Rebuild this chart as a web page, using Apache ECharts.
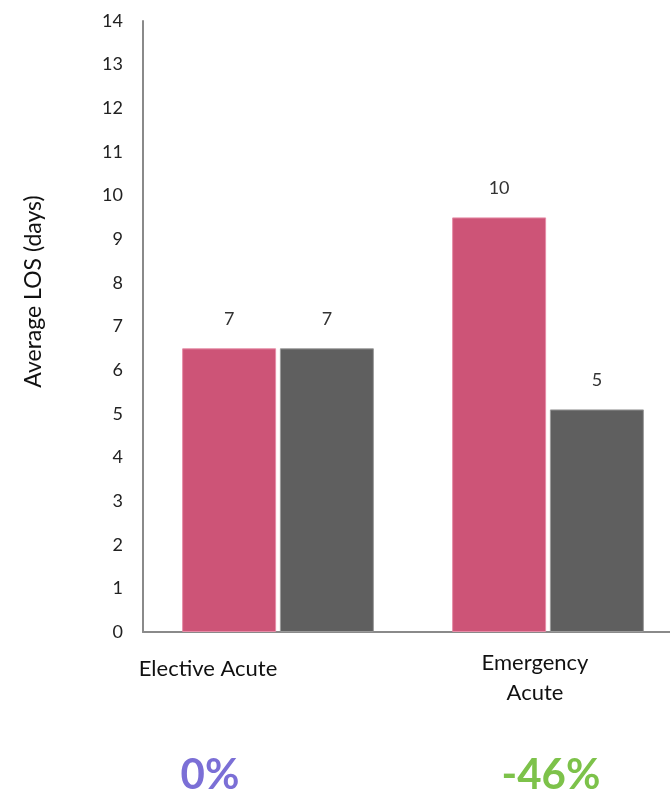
<!DOCTYPE html>
<html>
<head>
<meta charset="utf-8">
<script src="https://cdn.jsdelivr.net/npm/echarts@6/dist/echarts.min.js"></script>
<style>
  html, body { margin: 0; padding: 0; background: #fff; }
  #chart { width: 670px; height: 791px; }
</style>
</head>
<body>
<div id="chart"></div>
<script>
// Average length of stay by admission type, before vs after
const categories = ['Elective Acute', 'Emergency\nAcute'];
const beforeValues = [6.5, 9.5];
const afterValues = [6.5, 5.1];
const changeLabels = ['0%', '-46%'];
const yTicks = { min: 0, max: 14, step: 1 };

const FONT = 'Lato, "Open Sans", sans-serif';
const chart = echarts.init(document.getElementById('chart'), null, { renderer: 'canvas' });

// bar labels show the value rounded to whole days
const valueLabel = {
  show: true,
  position: 'top',
  distance: 20,
  color: '#333',
  fontFamily: FONT,
  fontSize: 18,
  formatter: p => Math.round(p.value)
};

chart.setOption({
  animation: false,
  backgroundColor: '#ffffff',
  grid: { left: 143, top: 21, width: 540, bottom: 159, outerBoundsMode: 'none', containLabel: false },
  xAxis: {
    type: 'category',
    data: categories,
    axisLine: { lineStyle: { color: '#8a8a8a', width: 2 } },
    axisTick: { show: false },
    axisLabel: {
      interval: 0,
      margin: 16,
      formatter: (v, i) => i === 0 ? '{a|' + v + '}' : v.split('\n').map(s => '{b|' + s + '}').join('\n'),
      rich: {
        a: { fontFamily: FONT, fontSize: 22, color: '#111', lineHeight: 30, padding: [11, 140, 0, 0] },
        b: { fontFamily: FONT, fontSize: 22, color: '#111', lineHeight: 30, padding: [0, 26, 0, 0] }
      }
    }
  },
  yAxis: {
    type: 'value',
    min: yTicks.min,
    max: yTicks.max,
    interval: yTicks.step,
    name: 'Average LOS (days)',
    nameLocation: 'middle',
    nameGap: 98,
    nameTextStyle: { fontFamily: FONT, fontSize: 23, color: '#111', padding: [0, 0, 0, 70] },
    axisLine: { show: true, lineStyle: { color: '#8a8a8a', width: 2 } },
    axisTick: { show: false },
    splitLine: { show: false },
    axisLabel: { margin: 20, fontFamily: FONT, fontSize: 18, color: '#222' }
  },
  series: [
    {
      type: 'bar',
      data: beforeValues,
      barWidth: 94,
      barGap: '4%',
      itemStyle: { color: '#cd5477', borderColor: '#e68ea8', borderWidth: 1 },
      label: valueLabel
    },
    {
      type: 'bar',
      data: afterValues,
      barWidth: 94,
      barGap: '4%',
      itemStyle: { color: '#5f5f5f', borderColor: '#9a9a9a', borderWidth: 1 },
      label: valueLabel
    }
  ],
  graphic: [
    {
      type: 'text', x: 210, y: 775,
      style: { text: changeLabels[0], fill: '#7b6fd6', font: 'bold 42px ' + FONT, textAlign: 'center', textVerticalAlign: 'middle' }
    },
    {
      type: 'text', x: 551, y: 775,
      style: { text: changeLabels[1], fill: '#7dc24a', font: 'bold 42px ' + FONT, textAlign: 'center', textVerticalAlign: 'middle' }
    }
  ]
});
</script>
</body>
</html>
